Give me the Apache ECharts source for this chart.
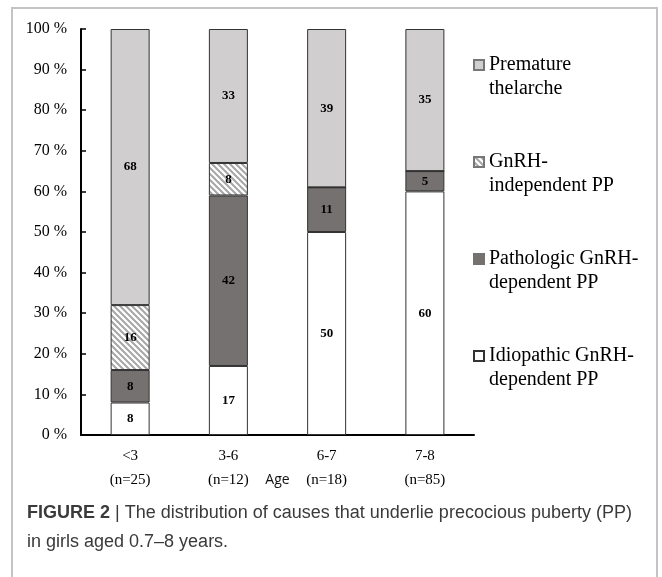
<!DOCTYPE html>
<html>
<head>
<meta charset="utf-8">
<script src="https://cdn.jsdelivr.net/npm/echarts@6/dist/echarts.min.js"></script>
<style>
  html, body { margin: 0; padding: 0; background: #fff; }
  #chart { width: 662px; height: 577px; }
</style>
</head>
<body>
<div id="chart"></div>
<script>
// data (percent of each age group)
const ageGroups = ['<3', '3-6', '6-7', '7-8']
const groupSizes = ['(n=25)', '(n=12)', '(n=18)', '(n=85)']
const idiopathic = [8, 17, 50, 60]
const pathologic = [8, 42, 11, 5]
const independent = [16, 8, 0, 0]
const thelarche = [68, 33, 39, 35]
const yTicks = [0, 10, 20, 30, 40, 50, 60, 70, 80, 90, 100]

const names = {
  thelarche: 'Premature\nthelarche',
  independent: 'GnRH-\nindependent PP',
  pathologic: 'Pathologic GnRH-\ndependent PP',
  idiopathic: 'Idiopathic GnRH-\ndependent PP',
}

// hatch pattern for GnRH-independent PP
function hatch() {
  const c = document.createElement('canvas')
  c.width = 6
  c.height = 6
  const ctx = c.getContext('2d')
  ctx.fillStyle = '#fff'
  ctx.fillRect(0, 0, 6, 6)
  ctx.strokeStyle = '#a6a6a6'
  ctx.lineWidth = 2
  ctx.beginPath()
  ctx.moveTo(-1, -1); ctx.lineTo(7, 7)
  ctx.moveTo(5, -1); ctx.lineTo(7, 1)
  ctx.moveTo(-1, 5); ctx.lineTo(1, 7)
  ctx.stroke()
  return { image: c, repeat: 'repeat' }
}

const chart = echarts.init(document.getElementById('chart'))

const labelStyle = {
  show: true,
  position: 'inside',
  color: '#000',
  fontFamily: 'Liberation Serif',
  fontWeight: 'bold',
  fontSize: 13,
  formatter: (p) => (p.value > 0 ? p.value : ''),
}

function bar(name, data, color) {
  return {
    name: name,
    type: 'bar',
    stack: 'all',
    barWidth: 39,
    data: data,
    itemStyle: { color: color, borderColor: '#333', borderWidth: 1 },
    label: labelStyle,
    emphasis: { disabled: true },
  }
}

// legend icon: square sitting on the first text line
const legendIcon = 'path://M0,7h10v10h-10z M0,0h0.01 M0,48h0.01'

const option = {
  animation: false,
  title: {
    left: 22,
    top: 494,
    text: '{b|FIGURE 2} | The distribution of causes that underlie precocious puberty (PP)\nin girls aged 0.7\u20138 years.',
    textStyle: {
      fontFamily: 'Liberation Sans',
      fontSize: 18,
      fontWeight: 'normal',
      color: '#3a3a3a',
      lineHeight: 29,
      rich: {
        b: { fontFamily: 'Liberation Sans', fontSize: 18, fontWeight: 'bold', color: '#3a3a3a', lineHeight: 29 },
      },
    },
  },
  legend: {
    orient: 'vertical',
    left: 473,
    top: 52,
    padding: 0,
    itemWidth: 10,
    itemHeight: 48,
    itemGap: 47,
    icon: legendIcon,
    selectedMode: false,
    textStyle: {
      fontFamily: 'Liberation Serif',
      fontSize: 20,
      lineHeight: 24,
      color: '#000',
    },
    data: [
      { name: names.thelarche, itemStyle: { borderColor: '#777' } },
      { name: names.independent, itemStyle: { borderColor: '#777' } },
      { name: names.pathologic, itemStyle: { borderColor: '#757171' } },
      { name: names.idiopathic, itemStyle: { borderColor: '#333' } },
    ],
  },
  grid: { left: 81, right: 188, top: 29, bottom: 142 },
  xAxis: {
    type: 'category',
    data: ageGroups,
    name: 'Age',
    nameLocation: 'middle',
    nameGap: 45,
    nameMoveOverlap: false,
    nameTextStyle: { fontFamily: 'Open Sans', fontSize: 14, color: '#111', verticalAlign: 'middle' },
    axisLine: { lineStyle: { color: '#000', width: 2 } },
    axisTick: { show: false },
    axisLabel: {
      margin: 9,
      formatter: (v, i) => '{a|' + v + '}\n{b|' + groupSizes[i] + '}',
      rich: {
        a: { fontFamily: 'Liberation Serif', fontSize: 15, color: '#000', lineHeight: 24 },
        b: { fontFamily: 'Liberation Serif', fontSize: 15, color: '#000', lineHeight: 24 },
      },
    },
  },
  yAxis: {
    type: 'value',
    min: yTicks[0],
    max: yTicks[yTicks.length - 1],
    interval: 10,
    axisLine: { show: true, lineStyle: { color: '#000', width: 2 } },
    axisTick: { show: true, inside: true, length: 5, lineStyle: { color: '#000', width: 1.5 } },
    splitLine: { show: false },
    axisLabel: {
      margin: 14,
      formatter: '{value} %',
      fontFamily: 'Liberation Serif',
      fontSize: 16,
      color: '#000',
    },
  },
  graphic: [
    { type: 'polyline', shape: { points: [[12, 577], [12, 8], [657, 8], [657, 577]] }, style: { stroke: '#c4c4c4', lineWidth: 2, fill: null }, silent: true },
  ],
  series: [
    bar(names.idiopathic, idiopathic, '#ffffff'),
    bar(names.pathologic, pathologic, '#767171'),
    bar(names.independent, independent, hatch()),
    bar(names.thelarche, thelarche, '#d0cece'),
  ],
}

chart.setOption(option)
</script>
</body>
</html>
